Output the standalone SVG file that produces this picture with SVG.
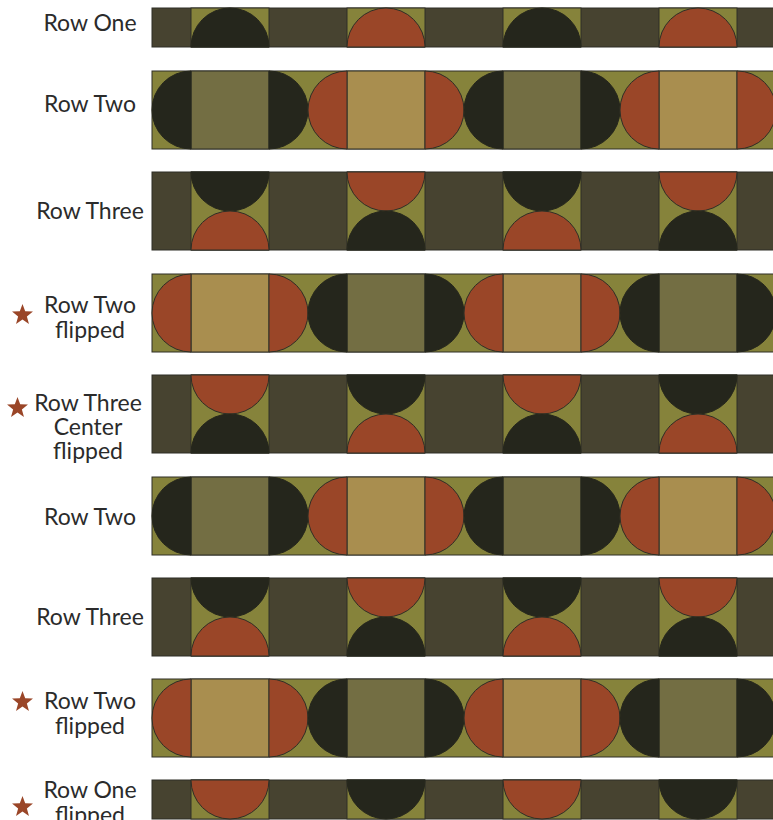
<svg xmlns="http://www.w3.org/2000/svg" xmlns:xlink="http://www.w3.org/1999/xlink" width="773" height="820" viewBox="0 0 773 820">
<style>
.dk{fill:#474330;stroke:#2f2e26;stroke-width:1}
.gr{fill:#86833b;stroke:#2f2e26;stroke-width:1}
.ol{fill:#736e43;stroke:#2f2e26;stroke-width:1}
.tn{fill:#a98e4f;stroke:#2f2e26;stroke-width:1}
.bk{fill:#25261c;stroke:#25261c;stroke-width:1}
.rd{fill:#9a4628;stroke:#2f2e26;stroke-width:1}
.lbl{font-family:Lato,"Open Sans","Liberation Sans",sans-serif;font-size:23px;fill:#2b2b2b;text-anchor:middle}
.star{fill:#9a4628}
</style>
<defs>
<path id="starShape" d="M0,-11 L2.7,-3.72 L10.46,-3.4 L4.37,1.42 L6.47,8.9 L0,4.6 L-6.47,8.9 L-4.37,1.42 L-10.46,-3.4 L-2.7,-3.72 Z"/>
<g id="rowOne">
<rect class="dk" x="152" y="0" width="640" height="39"/>
<rect class="gr" x="191" y="0" width="78" height="39"/>
<rect class="gr" x="347" y="0" width="78" height="39"/>
<rect class="gr" x="503" y="0" width="78" height="39"/>
<rect class="gr" x="659" y="0" width="78" height="39"/>
<path class="bk" d="M191,39 A39,39 0 0 1 269,39 Z"/>
<path class="rd" d="M347,39 A39,39 0 0 1 425,39 Z"/>
<path class="bk" d="M503,39 A39,39 0 0 1 581,39 Z"/>
<path class="rd" d="M659,39 A39,39 0 0 1 737,39 Z"/>
</g>
<g id="rowOneFlipped">
<rect class="dk" x="152" y="0" width="640" height="39"/>
<rect class="gr" x="191" y="0" width="78" height="39"/>
<rect class="gr" x="347" y="0" width="78" height="39"/>
<rect class="gr" x="503" y="0" width="78" height="39"/>
<rect class="gr" x="659" y="0" width="78" height="39"/>
<path class="rd" d="M191,0 A39,39 0 0 0 269,0 Z"/>
<path class="bk" d="M347,0 A39,39 0 0 0 425,0 Z"/>
<path class="rd" d="M503,0 A39,39 0 0 0 581,0 Z"/>
<path class="bk" d="M659,0 A39,39 0 0 0 737,0 Z"/>
</g>
<g id="rowTwo">
<rect class="gr" x="152" y="0" width="640" height="78"/>
<rect class="ol" x="191" y="0" width="78" height="78"/>
<rect class="tn" x="347" y="0" width="78" height="78"/>
<rect class="ol" x="503" y="0" width="78" height="78"/>
<rect class="tn" x="659" y="0" width="78" height="78"/>
<path class="bk" d="M191,0 A39,39 0 0 0 191,78 Z"/>
<path class="bk" d="M269,0 A39,39 0 0 1 269,78 Z"/>
<path class="rd" d="M347,0 A39,39 0 0 0 347,78 Z"/>
<path class="rd" d="M425,0 A39,39 0 0 1 425,78 Z"/>
<path class="bk" d="M503,0 A39,39 0 0 0 503,78 Z"/>
<path class="bk" d="M581,0 A39,39 0 0 1 581,78 Z"/>
<path class="rd" d="M659,0 A39,39 0 0 0 659,78 Z"/>
<path class="rd" d="M737,0 A39,39 0 0 1 737,78 Z"/>
</g>
<g id="rowTwoFlipped">
<rect class="gr" x="152" y="0" width="640" height="78"/>
<rect class="tn" x="191" y="0" width="78" height="78"/>
<rect class="ol" x="347" y="0" width="78" height="78"/>
<rect class="tn" x="503" y="0" width="78" height="78"/>
<rect class="ol" x="659" y="0" width="78" height="78"/>
<path class="rd" d="M191,0 A39,39 0 0 0 191,78 Z"/>
<path class="rd" d="M269,0 A39,39 0 0 1 269,78 Z"/>
<path class="bk" d="M347,0 A39,39 0 0 0 347,78 Z"/>
<path class="bk" d="M425,0 A39,39 0 0 1 425,78 Z"/>
<path class="rd" d="M503,0 A39,39 0 0 0 503,78 Z"/>
<path class="rd" d="M581,0 A39,39 0 0 1 581,78 Z"/>
<path class="bk" d="M659,0 A39,39 0 0 0 659,78 Z"/>
<path class="bk" d="M737,0 A39,39 0 0 1 737,78 Z"/>
</g>
<g id="rowThree">
<rect class="dk" x="152" y="0" width="640" height="78"/>
<rect class="gr" x="191" y="0" width="78" height="78"/>
<rect class="gr" x="347" y="0" width="78" height="78"/>
<rect class="gr" x="503" y="0" width="78" height="78"/>
<rect class="gr" x="659" y="0" width="78" height="78"/>
<path class="bk" d="M191,0 A39,39 0 0 0 269,0 Z"/>
<path class="rd" d="M191,78 A39,39 0 0 1 269,78 Z"/>
<path class="rd" d="M347,0 A39,39 0 0 0 425,0 Z"/>
<path class="bk" d="M347,78 A39,39 0 0 1 425,78 Z"/>
<path class="bk" d="M503,0 A39,39 0 0 0 581,0 Z"/>
<path class="rd" d="M503,78 A39,39 0 0 1 581,78 Z"/>
<path class="rd" d="M659,0 A39,39 0 0 0 737,0 Z"/>
<path class="bk" d="M659,78 A39,39 0 0 1 737,78 Z"/>
</g>
<g id="rowThreeFlipped">
<rect class="dk" x="152" y="0" width="640" height="78"/>
<rect class="gr" x="191" y="0" width="78" height="78"/>
<rect class="gr" x="347" y="0" width="78" height="78"/>
<rect class="gr" x="503" y="0" width="78" height="78"/>
<rect class="gr" x="659" y="0" width="78" height="78"/>
<path class="rd" d="M191,0 A39,39 0 0 0 269,0 Z"/>
<path class="bk" d="M191,78 A39,39 0 0 1 269,78 Z"/>
<path class="bk" d="M347,0 A39,39 0 0 0 425,0 Z"/>
<path class="rd" d="M347,78 A39,39 0 0 1 425,78 Z"/>
<path class="rd" d="M503,0 A39,39 0 0 0 581,0 Z"/>
<path class="bk" d="M503,78 A39,39 0 0 1 581,78 Z"/>
<path class="bk" d="M659,0 A39,39 0 0 0 737,0 Z"/>
<path class="rd" d="M659,78 A39,39 0 0 1 737,78 Z"/>
</g>
</defs>
<rect x="0" y="0" width="773" height="820" fill="#ffffff"/>

<g id="row1">
<use xlink:href="#rowOne" href="#rowOne" y="8"/>
<text class="lbl" x="90" y="31">Row One</text>
</g>
<g id="row2">
<use xlink:href="#rowTwo" href="#rowTwo" y="71"/>
<text class="lbl" x="90" y="112">Row Two</text>
</g>
<g id="row3">
<use xlink:href="#rowThree" href="#rowThree" y="172"/>
<text class="lbl" x="90" y="219">Row Three</text>
</g>
<g id="row4">
<use xlink:href="#rowTwoFlipped" href="#rowTwoFlipped" y="274"/>
<use class="star" xlink:href="#starShape" href="#starShape" x="22.5" y="315"/>
<text class="lbl" x="90" y="313">Row Two</text>
<text class="lbl" x="90" y="338">flipped</text>
</g>
<g id="row5">
<use xlink:href="#rowThreeFlipped" href="#rowThreeFlipped" y="375"/>
<use class="star" xlink:href="#starShape" href="#starShape" x="17.5" y="408"/>
<text class="lbl" x="88" y="411">Row Three</text>
<text class="lbl" x="88" y="435">Center</text>
<text class="lbl" x="88" y="459">flipped</text>
</g>
<g id="row6">
<use xlink:href="#rowTwo" href="#rowTwo" y="477"/>
<text class="lbl" x="90" y="525">Row Two</text>
</g>
<g id="row7">
<use xlink:href="#rowThree" href="#rowThree" y="578"/>
<text class="lbl" x="90" y="625">Row Three</text>
</g>
<g id="row8">
<use xlink:href="#rowTwoFlipped" href="#rowTwoFlipped" y="679"/>
<use class="star" xlink:href="#starShape" href="#starShape" x="22.5" y="702"/>
<text class="lbl" x="90" y="709">Row Two</text>
<text class="lbl" x="90" y="734">flipped</text>
</g>
<g id="row9">
<use xlink:href="#rowOneFlipped" href="#rowOneFlipped" y="780"/>
<use class="star" xlink:href="#starShape" href="#starShape" x="22.5" y="807"/>
<text class="lbl" x="90" y="798">Row One</text>
<text class="lbl" x="90" y="823">flipped</text>
</g>
</svg>
